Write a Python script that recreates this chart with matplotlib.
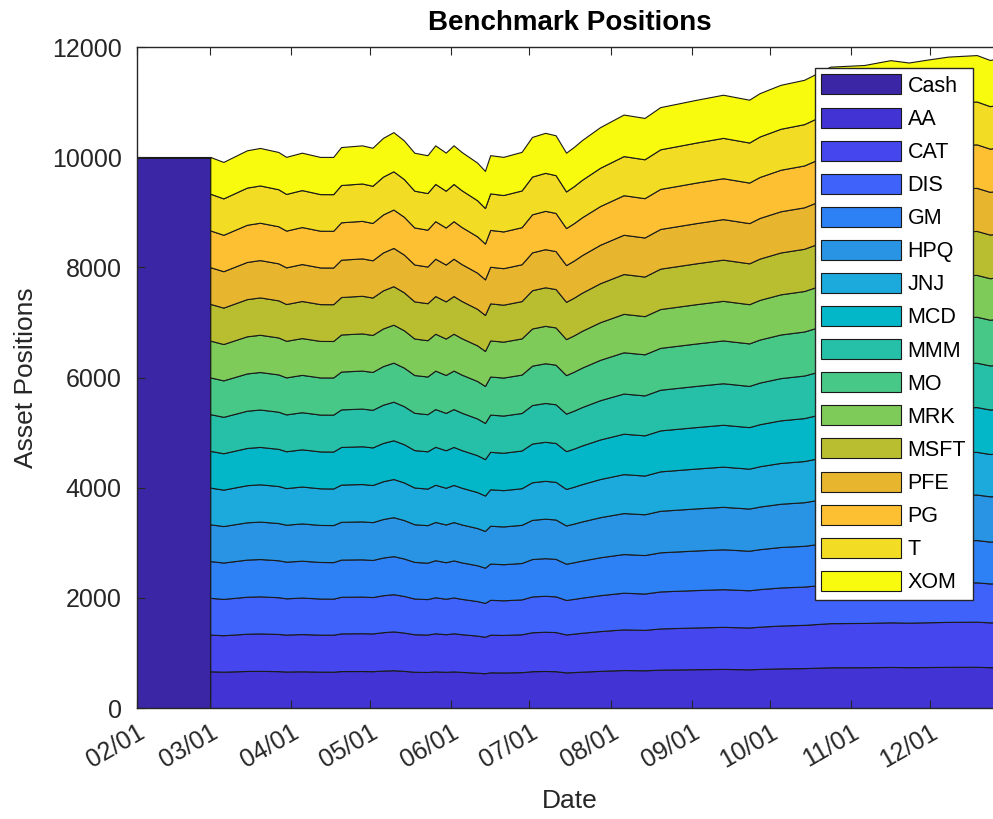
import numpy as np
import pandas as pd
import matplotlib
matplotlib.use('Agg')
import matplotlib.pyplot as plt
import matplotlib.dates as mdates

plt.rcParams['font.family'] = ['Liberation Sans', 'DejaVu Sans']

# Dates of the readings (year is not shown on the chart)
dates = ['02-01', '03-01',
         '03-01', '03-06', '03-15', '03-20', '03-27', '03-30', '04-05', '04-12', '04-17', '04-20',
         '04-28', '05-02', '05-06', '05-10', '05-14', '05-18', '05-23', '05-26', '05-30', '06-02',
         '06-05', '06-11', '06-14', '06-16', '06-21', '06-28', '07-02', '07-07', '07-11', '07-15',
         '07-18', '07-21', '07-28', '08-06', '08-14', '08-20', '09-03', '09-13', '09-23', '09-27',
         '10-05', '10-14', '10-24', '11-06', '11-16', '11-23', '11-29', '12-08', '12-19', '12-24',
         '12-29']

names = ['Cash', 'AA', 'CAT', 'DIS', 'GM', 'HPQ', 'JNJ', 'MCD', 'MMM', 'MO', 'MRK',
         'MSFT', 'PFE', 'PG', 'T', 'XOM']

cash = [10000, 10000] + [0] * 51

aa = [0, 0,
      667, 660, 673, 675, 670, 663, 667, 661, 660, 671,
      672, 669, 680, 686, 675, 659, 655, 666, 657, 665,
      656, 642, 631, 649, 646, 651, 669, 673, 669, 647,
      653, 660, 675, 690, 685, 697, 705, 710, 703, 710,
      720, 725, 740, 741, 746, 742, 744, 748, 749, 742, 744]
cat = [0, 0,
       667, 662, 676, 680, 675, 670, 676, 671, 672, 684,
       687, 685, 697, 705, 695, 681, 679, 691, 683, 692,
       685, 673, 663, 683, 681, 688, 707, 712, 710, 689,
       697, 706, 722, 738, 734, 748, 758, 764, 759, 767,
       778, 785, 801, 804, 810, 808, 812, 816, 819, 813, 817]
dis = [0, 0,
       667, 659, 672, 673, 667, 659, 663, 656, 654, 665,
       665, 661, 671, 676, 665, 648, 644, 654, 644, 651,
       641, 627, 615, 633, 629, 633, 650, 653, 649, 626,
       632, 638, 652, 666, 660, 672, 679, 684, 676, 682,
       691, 695, 710, 710, 714, 710, 711, 714, 714, 707, 708]
gm = [0, 0,
      667, 661, 674, 677, 671, 665, 669, 664, 663, 675,
      676, 673, 684, 691, 680, 665, 661, 673, 663, 672,
      663, 650, 639, 658, 655, 661, 679, 683, 680, 658,
      665, 672, 688, 702, 698, 710, 719, 724, 718, 725,
      735, 740, 756, 757, 763, 759, 762, 765, 767, 760, 763]
hpq = [0, 0,
       667, 662, 677, 680, 676, 671, 677, 672, 673, 686,
       689, 687, 699, 707, 698, 684, 681, 694, 686, 696,
       689, 676, 667, 687, 686, 693, 711, 717, 715, 695,
       702, 711, 728, 744, 741, 754, 764, 771, 766, 774,
       785, 792, 809, 812, 818, 816, 820, 825, 827, 822, 826]
jnj = [0, 0,
       667, 661, 674, 677, 672, 665, 670, 665, 664, 676,
       678, 674, 686, 693, 683, 667, 664, 676, 666, 675,
       667, 653, 643, 662, 659, 665, 683, 687, 684, 663,
       669, 677, 693, 707, 703, 716, 724, 730, 724, 732,
       741, 747, 763, 764, 770, 767, 769, 773, 775, 768, 771]
mcd = [0, 0,
       667, 661, 676, 679, 675, 669, 675, 670, 671, 683,
       686, 683, 696, 703, 694, 679, 677, 689, 681, 690,
       683, 670, 661, 680, 679, 685, 703, 709, 706, 686,
       693, 702, 718, 734, 730, 744, 753, 760, 754, 763,
       773, 780, 796, 799, 805, 803, 806, 811, 813, 808, 811]
mmm = [0, 0,
       667, 661, 676, 679, 674, 669, 674, 669, 670, 682,
       684, 682, 694, 701, 691, 677, 674, 686, 678, 687,
       679, 667, 657, 676, 675, 681, 699, 705, 702, 681,
       689, 697, 713, 729, 725, 738, 748, 754, 748, 756,
       767, 773, 789, 792, 798, 795, 799, 803, 805, 800, 803]
mo = [0, 0,
      667, 662, 677, 681, 677, 672, 678, 674, 675, 687,
      690, 688, 701, 709, 700, 686, 684, 697, 689, 699,
      692, 680, 671, 691, 690, 697, 715, 721, 719, 699,
      707, 716, 733, 749, 746, 760, 770, 777, 772, 781,
      792, 799, 815, 818, 825, 823, 827, 832, 835, 830, 834]
mrk = [0, 0,
       667, 660, 674, 676, 671, 664, 668, 663, 662, 673,
       675, 671, 683, 689, 678, 663, 659, 670, 661, 669,
       661, 647, 636, 655, 652, 657, 675, 679, 676, 654,
       660, 668, 683, 698, 693, 705, 714, 719, 712, 720,
       729, 735, 750, 751, 757, 753, 755, 759, 760, 754, 756]
msft = [0, 0,
        667, 661, 675, 678, 674, 668, 673, 668, 668, 680,
        683, 680, 692, 699, 689, 674, 672, 684, 675, 684,
        676, 663, 654, 673, 671, 677, 695, 700, 697, 677,
        684, 692, 708, 723, 719, 733, 742, 748, 742, 750,
        760, 767, 783, 785, 791, 788, 791, 796, 798, 792, 795]
pfe = [0, 0,
       667, 661, 675, 678, 672, 666, 671, 666, 666, 678,
       679, 676, 688, 695, 685, 670, 666, 678, 669, 678,
       670, 657, 646, 665, 663, 669, 687, 692, 689, 667,
       674, 682, 698, 713, 709, 721, 730, 736, 730, 738,
       748, 753, 769, 771, 777, 774, 777, 780, 782, 776, 779]
pg = [0, 0,
      667, 661, 675, 678, 673, 667, 672, 667, 667, 679,
      681, 678, 690, 697, 687, 672, 669, 681, 672, 681,
      673, 660, 650, 669, 667, 673, 691, 696, 693, 672,
      679, 687, 703, 718, 714, 727, 736, 742, 736, 744,
      754, 760, 776, 778, 784, 781, 784, 788, 790, 784, 787]
t = [0, 0,
     667, 661, 675, 677, 672, 666, 671, 665, 665, 677,
     679, 675, 687, 694, 684, 668, 665, 677, 668, 676,
     668, 655, 645, 663, 661, 667, 685, 690, 686, 665,
     672, 680, 695, 710, 706, 719, 727, 733, 727, 735,
     744, 750, 766, 768, 773, 770, 773, 777, 778, 772, 775]
xom = [0, 0,
       667, 662, 677, 681, 677, 673, 679, 675, 676, 689,
       692, 690, 703, 711, 702, 689, 687, 700, 692, 702,
       695, 683, 674, 694, 693, 701, 720, 726, 724, 704,
       712, 721, 738, 754, 751, 766, 776, 783, 778, 787,
       798, 805, 822, 825, 832, 831, 835, 840, 843, 838, 842]

colors = ['#3b26a6', '#4233d5', '#4646ef', '#3f62fa', '#2e80f5', '#2894e3',
          '#1ca9db', '#04b7c8', '#26c0a8', '#48c887', '#7fcb5a', '#b9be31',
          '#e8b52f', '#fdc032', '#f3dc24', '#f9fb0e']

x = pd.to_datetime(['2006-' + d for d in dates])
series = [cash, aa, cat, dis, gm, hpq, jnj, mcd, mmm, mo, mrk, msft, pfe, pg, t, xom]

fig = plt.figure(figsize=(9.93, 8.19), dpi=100)
ax = fig.add_axes([0.138, 0.1355, 0.872, 0.807])

ax.stackplot(x, *series, labels=names, colors=colors,
             edgecolor='#1a1a1a', linewidth=0.8)

ax.set_xlim(pd.Timestamp('2006-02-01'), pd.Timestamp('2006-12-29'))
ax.set_ylim(0, 12000)
ax.set_yticks(np.arange(0, 12001, 2000))
ax.xaxis.set_major_locator(mdates.MonthLocator(bymonthday=1))
ax.xaxis.set_major_formatter(mdates.DateFormatter('%m/%d'))
plt.setp(ax.get_xticklabels(), rotation=30, ha='right', rotation_mode='anchor')

ax.tick_params(direction='in', length=6, width=0.8, colors='#262626',
               labelsize=18, top=True, right=False)
ax.tick_params(axis='y', pad=11)
ax.tick_params(axis='x', pad=9)
for s in ax.spines.values():
    s.set_color('#262626')
    s.set_linewidth(1.0)

ax.set_title('Benchmark Positions', fontsize=20, fontweight='bold', pad=12)
ax.set_xlabel('Date', fontsize=19, color='#262626', labelpad=12)
ax.set_ylabel('Asset Positions', fontsize=19, color='#262626', labelpad=10)

leg = ax.legend(loc='upper left', bbox_to_anchor=(815 / 993, 1 - 68 / 819),
                bbox_transform=fig.transFigure, fontsize=15.5, frameon=True,
                fancybox=False, edgecolor='#262626', framealpha=1,
                handlelength=3.7, handleheight=1.05, labelspacing=0.5,
                handletextpad=0.3, borderpad=0.3, borderaxespad=0)
leg.get_frame().set_linewidth(1.0)

fig.savefig('out.png', dpi=100)
